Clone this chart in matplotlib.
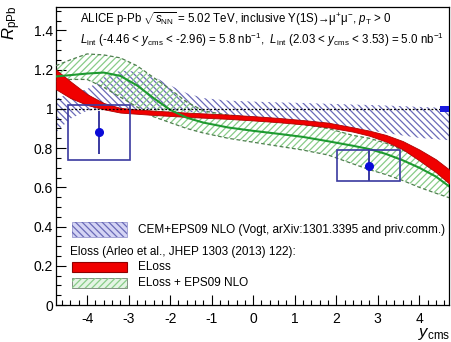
import matplotlib
matplotlib.use("Agg")
import matplotlib.pyplot as plt
import matplotlib.patches as mpatches
from matplotlib.ticker import MultipleLocator

plt.rcParams.update({
    "font.family": ["Liberation Sans", "DejaVu Sans"],
    "mathtext.fontset": "custom",
    "mathtext.rm": "Liberation Sans",
    "mathtext.it": "Liberation Sans:italic",
    "mathtext.bf": "Liberation Sans:bold",
    "hatch.linewidth": 0.9,
})

# rapidity grid shared by the model bands
y_grid = [-4.75, -4.4, -4.0, -3.6, -3.2, -2.8, -2.4, -2.0, -1.6, -1.2, -0.6,
          0.0, 0.6, 1.2, 1.8, 2.4, 2.8, 3.2, 3.6, 4.0, 4.4, 4.75]

# CEM + EPS09 NLO (Vogt)
cem_lo = [0.88, 0.95, 0.99, 1.00, 1.00, 1.00, 0.995, 0.99, 0.985, 0.98, 0.97,
          0.96, 0.95, 0.937, 0.922, 0.903, 0.89, 0.877, 0.864, 0.852, 0.845, 0.84]
cem_hi = [1.05, 1.08, 1.10, 1.16, 1.195, 1.19, 1.165, 1.12, 1.08, 1.055, 1.042,
          1.037, 1.033, 1.03, 1.026, 1.022, 1.02, 1.017, 1.014, 1.01, 1.007, 1.005]

# ELoss (Arleo et al.)
eloss_lo = [1.10, 1.055, 1.02, 0.998, 0.981, 0.975, 0.969, 0.964, 0.959, 0.955, 0.949,
            0.941, 0.932, 0.921, 0.906, 0.884, 0.863, 0.833, 0.794, 0.737, 0.677, 0.614]
eloss_hi = [1.20, 1.14, 1.075, 1.03, 1.005, 0.997, 0.991, 0.986, 0.981, 0.977, 0.971,
            0.963, 0.954, 0.943, 0.93, 0.906, 0.889, 0.867, 0.836, 0.793, 0.743, 0.686]

# ELoss + EPS09 NLO
eps_mid = [1.165, 1.172, 1.18, 1.185, 1.168, 1.12, 1.055, 0.995, 0.955, 0.93, 0.905,
           0.888, 0.873, 0.857, 0.835, 0.812, 0.795, 0.77, 0.738, 0.70, 0.655, 0.60]
eps_lo = [1.14, 1.15, 1.15, 1.11, 1.06, 1.01, 0.96, 0.93, 0.90, 0.877, 0.85,
          0.83, 0.81, 0.79, 0.765, 0.72, 0.69, 0.665, 0.635, 0.60, 0.57, 0.545]
eps_hi = [1.22, 1.25, 1.28, 1.275, 1.26, 1.22, 1.16, 1.10, 1.035, 0.99, 0.968,
          0.955, 0.94, 0.92, 0.90, 0.865, 0.85, 0.825, 0.79, 0.75, 0.705, 0.655]

# ALICE Upsilon(1S) R_pPb, backward and forward
bin_lo = [-4.46, 2.03]
bin_hi = [-2.96, 3.53]
rppb = [0.88, 0.71]
stat = [0.11, 0.08]
syst = [0.14, 0.08]
global_unc = 0.015

fig = plt.figure(figsize=(4.51, 3.42), dpi=100)
ax = fig.add_axes([0.124, 0.108, 0.872, 0.872])

blue = "#3a3aa0"
ax.fill_between(y_grid, cem_lo, cem_hi, facecolor="none", edgecolor="#6a6ab8",
                hatch="\\\\\\\\\\", linewidth=0, zorder=1)
ax.fill_between(y_grid, eps_lo, eps_hi, facecolor="none", edgecolor="#88cc88",
                hatch="/////", linewidth=0, zorder=2)
ax.plot(y_grid, eps_lo, color="#4f7f4f", lw=0.9, ls=(0, (3, 2)), zorder=3)
ax.plot(y_grid, eps_hi, color="#4f7f4f", lw=0.9, ls=(0, (3, 2)), zorder=3)
ax.fill_between(y_grid, eloss_lo, eloss_hi, facecolor="#f00000", edgecolor="#b00000",
                linewidth=0.6, zorder=4)
ax.plot(y_grid, eps_mid, color="#1e9a30", lw=1.5, zorder=5)

ax.axhline(1.0, color="black", lw=0.9, ls=(0, (1.5, 1.5)), zorder=6)

# global uncertainty
ax.add_patch(mpatches.Rectangle((4.5, 1 - global_unc), 0.3, 2 * global_unc,
                                facecolor="#1a1ae0", edgecolor="none", zorder=7))

for lo, hi, v, st, sy in zip(bin_lo, bin_hi, rppb, stat, syst):
    ax.add_patch(mpatches.Rectangle((lo, v - sy), hi - lo, 2 * sy, facecolor="none",
                                    edgecolor=blue, lw=1.2, zorder=7))
    xc = 0.5 * (lo + hi)
    ax.errorbar([xc], [v], yerr=[st], fmt="o", color="#0a0ad8", ecolor=blue,
                elinewidth=1.4, ms=5.5, capsize=0, zorder=8)

ax.set_xlim(-4.75, 4.72)
ax.set_ylim(0, 1.52)
ax.xaxis.set_minor_locator(MultipleLocator(0.2))
ax.yaxis.set_minor_locator(MultipleLocator(0.05))
ax.set_yticks([0, 0.2, 0.4, 0.6, 0.8, 1.0, 1.2, 1.4])
ax.set_yticklabels(["0", "0.2", "0.4", "0.6", "0.8", "1", "1.2", "1.4"])
ax.set_xticks([-4, -3, -2, -1, 0, 1, 2, 3, 4])
ax.set_xticklabels(["-4", "-3", "-2", "-1", "0", "1", "2", "3", "4"])
ax.tick_params(which="both", direction="in", top=False, right=False, labelsize=10)
ax.tick_params(which="major", length=7, width=0.8)
ax.tick_params(which="minor", length=3.5, width=0.8)
ax.tick_params(axis="x", pad=5)
ax.tick_params(axis="y", pad=2)
for sp in ax.spines.values():
    sp.set_linewidth(0.9)

fig.text(12 / 451, 1 - 6 / 342, r"$R_{\rm pPb}$", rotation=90, ha="center", va="top",
         fontsize=12)
fig.text(450 / 451, 0.0, r"$y_{\rm cms}$", ha="right", va="bottom", fontsize=12)

ax.text(0.061, 0.958,
        r"ALICE p-Pb $\sqrt{s_{\rm NN}}$ = 5.02 TeV, inclusive Υ(1S)→μ$^{+}$μ$^{-}$, $p_{\rm T}$ > 0",
        transform=ax.transAxes, fontsize=8.3, va="center", ha="left")
ax.text(0.061, 0.889,
        r"$L_{\rm int}$ (-4.46 < $y_{\rm cms}$ < -2.96) = 5.8 nb$^{-1}$,  $L_{\rm int}$ (2.03 < $y_{\rm cms}$ < 3.53) = 5.0 nb$^{-1}$",
        transform=ax.transAxes, fontsize=8.3, va="center", ha="left")

# legend, drawn in axes fraction
tr = ax.transAxes
ax.add_patch(mpatches.Rectangle((0.041, 0.228), 0.14, 0.051, transform=tr,
                                facecolor="#d4d4f4", edgecolor="#9a9ad0",
                                lw=0.6, zorder=9))
ax.add_patch(mpatches.Rectangle((0.041, 0.228), 0.14, 0.051, transform=tr,
                                facecolor="none", edgecolor="#6a6ab8",
                                hatch="\\\\\\\\\\", lw=0, zorder=9))
ax.add_patch(mpatches.Rectangle((0.041, 0.111), 0.14, 0.034, transform=tr,
                                facecolor="#f00000", edgecolor="#900000", lw=0.8, zorder=9))
ax.add_patch(mpatches.Rectangle((0.041, 0.057), 0.14, 0.034, transform=tr,
                                facecolor="#e4f4e4", edgecolor="#708070", lw=0.6, zorder=9))
ax.add_patch(mpatches.Rectangle((0.041, 0.057), 0.14, 0.034, transform=tr,
                                facecolor="none", edgecolor="#88cc88", hatch="/////",
                                lw=0, zorder=9))
ax.text(0.209, 0.253, "CEM+EPS09 NLO (Vogt, arXiv:1301.3395 and priv.comm.)",
        transform=tr, fontsize=8.5, va="center")
ax.text(0.036, 0.178, "Eloss (Arleo et al., JHEP 1303 (2013) 122):",
        transform=tr, fontsize=8.5, va="center")
ax.text(0.209, 0.128, "ELoss", transform=tr, fontsize=8.5, va="center")
ax.text(0.209, 0.074, "ELoss + EPS09 NLO", transform=tr, fontsize=8.5, va="center")

fig.savefig("out.png", dpi=100)
